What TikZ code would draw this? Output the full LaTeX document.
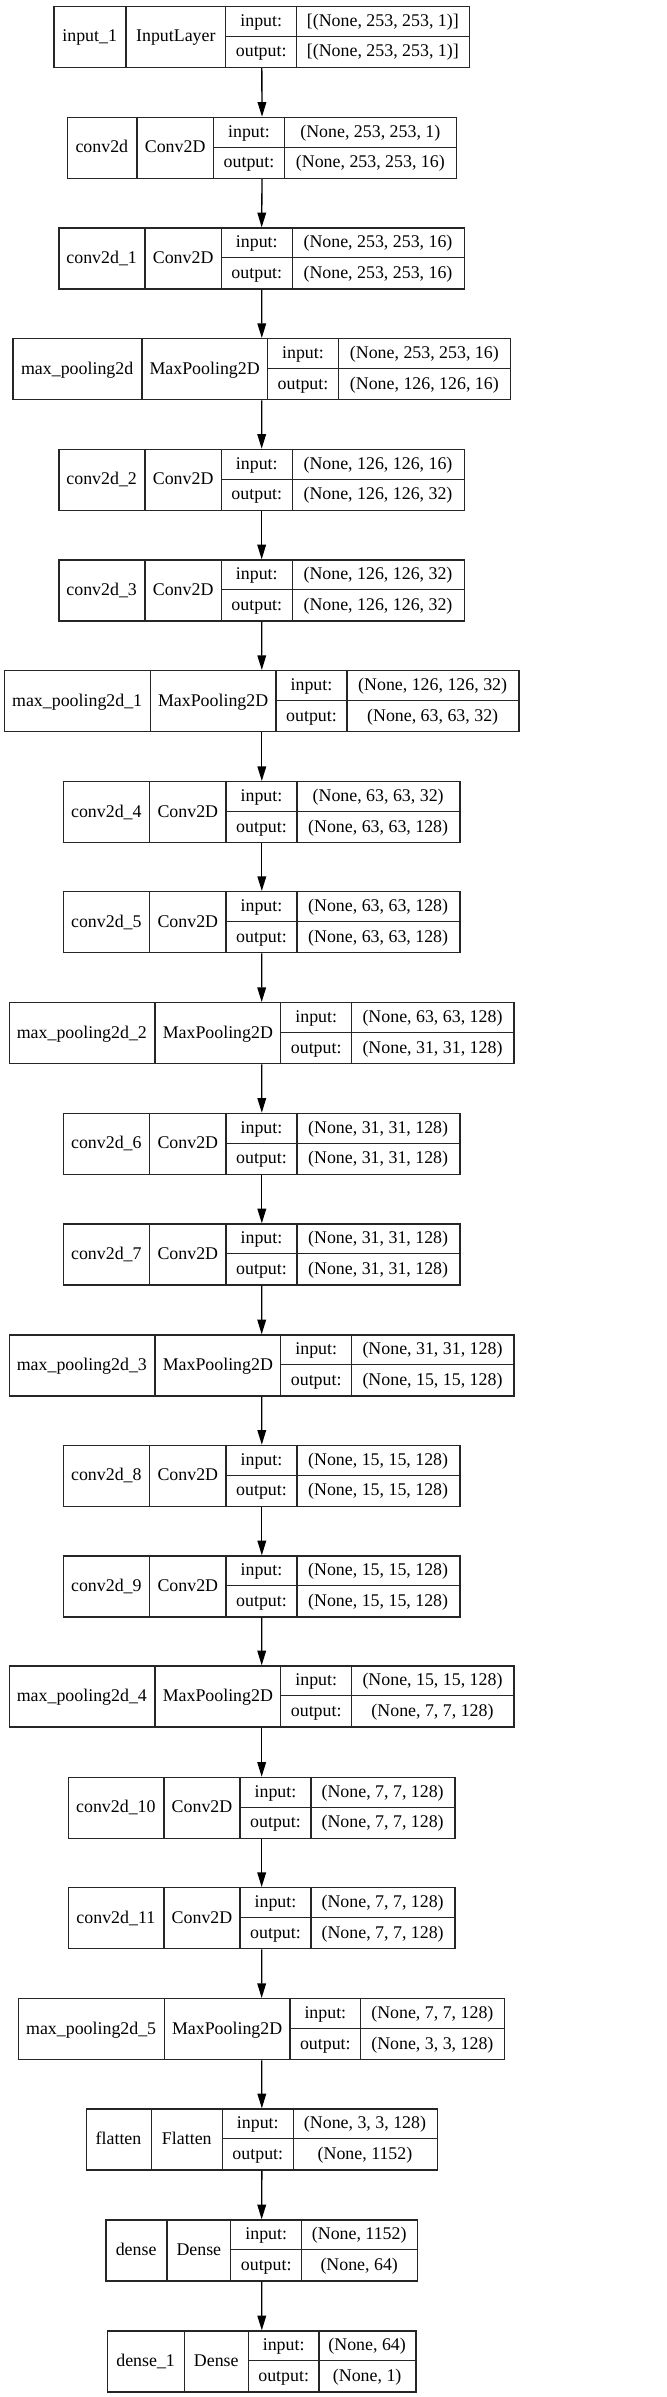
\documentclass[tikz,border=0pt]{standalone}
\usepackage{fontspec}
\setmainfont{Liberation Serif}
\usetikzlibrary{arrows.meta}

\tikzset{
  box/.style={draw=black!85, line width=1pt, minimum height=45.75pt, inner sep=0pt, anchor=north west},
  cellline/.style={draw=black!85, line width=1pt},
  txt/.style={anchor=base, inner sep=0pt, font=\fontsize{13.4}{16}\selectfont},
  arr/.style={draw=black, line width=1pt, -{Triangle[length=11pt,width=6.5pt]}}
}

% #1 id, #2 top, #3 left, #4..#6 cell borders, #7 right, #8 name, #9 class
\newcommand{\layer}[9]{%
  \node[box, minimum width={(#7-#3)*0.75pt}] (#1) at (#3,#2) {};
  \draw[cellline] (#4,#2) -- (#4,{#2+61});
  \draw[cellline] (#5,#2) -- (#5,{#2+61});
  \draw[cellline] (#6,#2) -- (#6,{#2+61});
  \draw[cellline] (#5,{#2+30.5}) -- (#7,{#2+30.5});
  \node[txt] (#1-name) at ({(#3+#4)/2},{#2+36}) {#8};
  \node[txt] (#1-class) at ({(#4+#5)/2},{#2+36}) {#9};
  \node[txt] (#1-inl) at ({(#5+#6)/2},{#2+20.5}) {input:};
  \node[txt] (#1-outl) at ({(#5+#6)/2},{#2+51}) {output:};
  \coordinate (#1-in) at ({(#6+#7)/2},{#2+20.5});
  \coordinate (#1-out) at ({(#6+#7)/2},{#2+51});
}
\newcommand{\shapes}[3]{%
  \node[txt] (#1-inv) at (#1-in) {#2};
  \node[txt] (#1-outv) at (#1-out) {#3};
}

\begin{document}
\begin{tikzpicture}[x=0.75pt,y=-0.75pt]
\useasboundingbox (0,0) rectangle (667,2397);

\layer{l1}{5.7}{53.3}{126}{225.7}{296.7}{469}{input\_1}{InputLayer}
\shapes{l1}{[(None, 253, 253, 1)]}{[(None, 253, 253, 1)]}

\layer{l2}{116.7}{66.7}{137}{213.3}{284.7}{456}{conv2d}{Conv2D}
\shapes{l2}{(None, 253, 253, 1)}{(None, 253, 253, 16)}

\layer{l3}{227.3}{58.3}{145}{221.3}{292.3}{463.7}{conv2d\_1}{Conv2D}
\shapes{l3}{(None, 253, 253, 16)}{(None, 253, 253, 16)}

\layer{l4}{338}{12.3}{142}{267.3}{338.7}{510}{max\_pooling2d}{MaxPooling2D}
\shapes{l4}{(None, 253, 253, 16)}{(None, 126, 126, 16)}

\layer{l5}{448.7}{58.3}{145}{221.3}{292.3}{463.7}{conv2d\_2}{Conv2D}
\shapes{l5}{(None, 126, 126, 16)}{(None, 126, 126, 32)}

\layer{l6}{559.3}{58.3}{145}{221.3}{292.3}{463.7}{conv2d\_3}{Conv2D}
\shapes{l6}{(None, 126, 126, 32)}{(None, 126, 126, 32)}

\layer{l7}{670}{4}{150.3}{276}{347}{518.3}{max\_pooling2d\_1}{MaxPooling2D}
\shapes{l7}{(None, 126, 126, 32)}{(None, 63, 63, 32)}

\layer{l8}{781}{63}{149.7}{226}{297}{459.3}{conv2d\_4}{Conv2D}
\shapes{l8}{(None, 63, 63, 32)}{(None, 63, 63, 128)}

\layer{l9}{891}{63}{149.7}{226}{297}{459.3}{conv2d\_5}{Conv2D}
\shapes{l9}{(None, 63, 63, 128)}{(None, 63, 63, 128)}

\layer{l10}{1002}{8.7}{155}{280.7}{351.7}{513.3}{max\_pooling2d\_2}{MaxPooling2D}
\shapes{l10}{(None, 63, 63, 128)}{(None, 31, 31, 128)}

\layer{l11}{1112.7}{63}{149.7}{226}{297}{459.3}{conv2d\_6}{Conv2D}
\shapes{l11}{(None, 31, 31, 128)}{(None, 31, 31, 128)}

\layer{l12}{1223.3}{63}{149.7}{226}{297}{459.3}{conv2d\_7}{Conv2D}
\shapes{l12}{(None, 31, 31, 128)}{(None, 31, 31, 128)}

\layer{l13}{1334.3}{8.7}{155}{280.7}{351.7}{513.3}{max\_pooling2d\_3}{MaxPooling2D}
\shapes{l13}{(None, 31, 31, 128)}{(None, 15, 15, 128)}

\layer{l14}{1444.7}{63}{149.7}{226}{297}{459.3}{conv2d\_8}{Conv2D}
\shapes{l14}{(None, 15, 15, 128)}{(None, 15, 15, 128)}

\layer{l15}{1555.3}{63}{149.7}{226}{297}{459.3}{conv2d\_9}{Conv2D}
\shapes{l15}{(None, 15, 15, 128)}{(None, 15, 15, 128)}

\layer{l16}{1665.3}{8.7}{155}{280.7}{351.7}{513.3}{max\_pooling2d\_4}{MaxPooling2D}
\shapes{l16}{(None, 15, 15, 128)}{(None, 7, 7, 128)}

\layer{l17}{1776.7}{67.7}{164}{240}{311}{454.3}{conv2d\_10}{Conv2D}
\shapes{l17}{(None, 7, 7, 128)}{(None, 7, 7, 128)}

\layer{l18}{1887}{67.7}{164}{240}{311}{454.3}{conv2d\_11}{Conv2D}
\shapes{l18}{(None, 7, 7, 128)}{(None, 7, 7, 128)}

\layer{l19}{1998}{18}{164.3}{290}{360.7}{504}{max\_pooling2d\_5}{MaxPooling2D}
\shapes{l19}{(None, 7, 7, 128)}{(None, 3, 3, 128)}

\layer{l20}{2108.3}{85.7}{151.3}{222.3}{293.3}{436.7}{flatten}{Flatten}
\shapes{l20}{(None, 3, 3, 128)}{(None, 1152)}

\layer{l21}{2219.3}{105.3}{167}{230.7}{301.7}{416.7}{dense}{Dense}
\shapes{l21}{(None, 1152)}{(None, 64)}

\layer{l22}{2330.3}{107}{184.3}{248.3}{319}{415.3}{dense\_1}{Dense}
\shapes{l22}{(None, 64)}{(None, 1)}

% flow between layers
\foreach \i [evaluate=\i as \j using int(\i+1)] in {1,...,21}
  \draw[arr] (l\i.south) -- (l\j.north);
\end{tikzpicture}
\end{document}
